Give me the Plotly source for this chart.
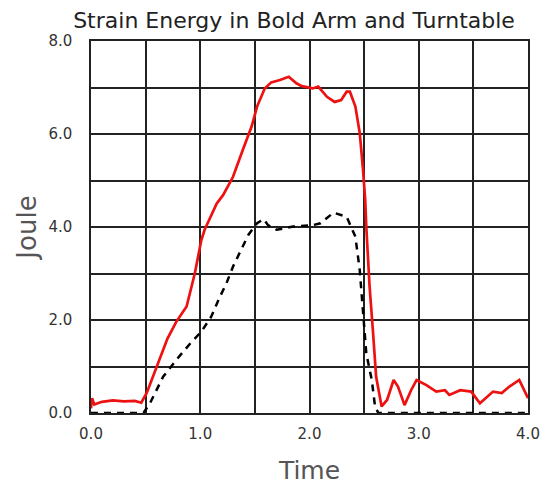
import plotly.graph_objects as go

# Red solid curve (bold arm)
red_x = [0.0, 0.01, 0.03, 0.1, 0.2, 0.3, 0.4, 0.46, 0.51, 0.6, 0.7, 0.78, 0.875, 0.95, 1.01,
         1.04, 1.15, 1.21, 1.30, 1.39, 1.47, 1.52, 1.59, 1.65, 1.73, 1.81, 1.88, 1.93, 2.03,
         2.08, 2.16, 2.23, 2.29, 2.34, 2.37, 2.42, 2.46, 2.49, 2.51, 2.52, 2.55, 2.58, 2.61,
         2.66, 2.71, 2.77, 2.81, 2.87, 2.93, 2.98, 3.07, 3.16, 3.24, 3.28, 3.38, 3.48, 3.56,
         3.68, 3.76, 3.83, 3.92, 4.0]
red_y = [0.10, 0.32, 0.18, 0.24, 0.27, 0.25, 0.26, 0.22, 0.43, 1.00, 1.60, 1.96, 2.29, 3.00, 3.72,
         3.94, 4.50, 4.69, 5.08, 5.66, 6.16, 6.59, 6.98, 7.11, 7.16, 7.23, 7.09, 7.03, 6.98,
         7.02, 6.80, 6.69, 6.73, 6.91, 6.91, 6.59, 6.02, 5.23, 4.58, 4.00, 2.72, 1.78, 0.78,
         0.14, 0.28, 0.71, 0.57, 0.17, 0.49, 0.71, 0.60, 0.46, 0.49, 0.39, 0.49, 0.46, 0.21,
         0.46, 0.43, 0.57, 0.71, 0.32]

# Black dashed curve (turntable)
blk_x = [0.0, 0.48, 0.54, 0.66, 0.78, 0.91, 1.01, 1.10, 1.18, 1.24, 1.30, 1.36, 1.44, 1.52,
         1.58, 1.62, 1.70, 1.85, 2.03, 2.10, 2.22, 2.34, 2.38, 2.42, 2.46, 2.49, 2.52, 2.57,
         2.60, 2.63, 4.0]
blk_y = [0.0, 0.0, 0.21, 0.78, 1.14, 1.50, 1.75, 2.07, 2.50, 2.79, 3.15, 3.43, 3.83, 4.08,
         4.17, 4.04, 3.94, 4.01, 4.04, 4.08, 4.31, 4.22, 4.00, 3.79, 3.07, 2.21, 1.28, 0.71,
         0.14, 0.0, 0.0]

x_tickvals = [0.0, 0.5, 1.0, 1.5, 2.0, 2.5, 3.0, 3.5, 4.0]
x_ticktext = ["0.0", "", "1.0", "", "2.0", "", "3.0", "", "4.0"]
y_tickvals = [0, 1, 2, 3, 4, 5, 6, 7, 8]
y_ticktext = ["0.0", "", "2.0", "", "4.0", "", "6.0", "", "8.0"]

fig = go.Figure()
fig.add_trace(go.Scatter(x=blk_x, y=blk_y, mode="lines",
                         line=dict(color="black", width=2.5, dash="7px,6px")))
fig.add_trace(go.Scatter(x=red_x, y=red_y, mode="lines",
                         line=dict(color="#ee1111", width=2.7)))

font_family = "DejaVu Sans"
fig.update_layout(
    width=541, height=479,
    margin=dict(l=83, r=21, t=33, b=74, autoexpand=False),
    paper_bgcolor="white", plot_bgcolor="white",
    showlegend=False,
    title=dict(text="Strain Energy in Bold Arm and Turntable",
               x=0.5287, xref="container", xanchor="center",
               y=1 - 12 / 479, yref="container", yanchor="middle",
               font=dict(family=font_family, size=22, color="#222")),
    xaxis=dict(range=[0, 4], tickvals=x_tickvals, ticktext=x_ticktext,
               showgrid=True, gridcolor="#222", gridwidth=1.5,
               showline=True, linecolor="#222", linewidth=1.5, mirror=True,
               zeroline=False, ticks="", ticklen=0, ticklabelstandoff=6,
               automargin=False,
               tickfont=dict(family=font_family, size=15, color="#333"),
               title=dict(text="Time", font=dict(family=font_family, size=25, color="#555"),
                          standoff=20)),
    yaxis=dict(range=[0, 8], tickvals=y_tickvals, ticktext=y_ticktext,
               showgrid=True, gridcolor="#222", gridwidth=1.5,
               showline=True, linecolor="#222", linewidth=1.5, mirror=True,
               zeroline=False, ticks="", ticklen=0, ticklabelstandoff=14,
               automargin=False,
               tickfont=dict(family=font_family, size=15, color="#333"),
               title=dict(text="Joule", font=dict(family=font_family, size=26, color="#555"),
                          standoff=4)),
)

fig.write_html("out.html")
